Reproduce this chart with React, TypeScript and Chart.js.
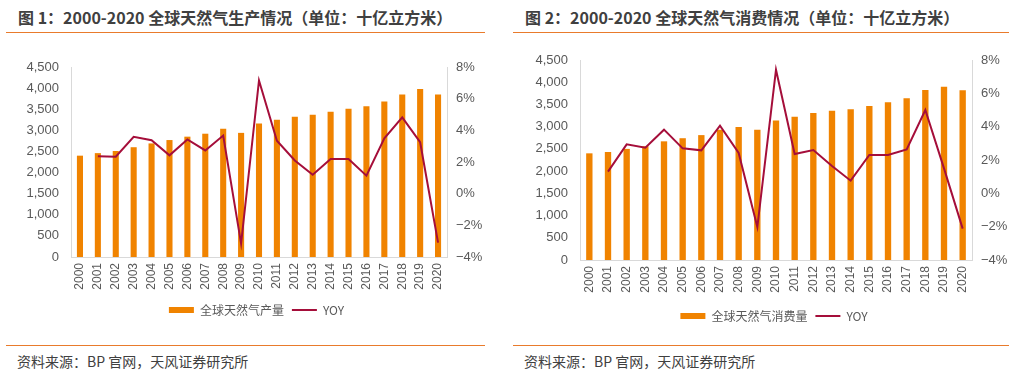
import React, { useEffect, useRef } from "react";
import { Chart, registerables } from "chart.js";

Chart.register(...registerables);

const years = [
  "2000", "2001", "2002", "2003", "2004", "2005", "2006", "2007", "2008", "2009", "2010",
  "2011", "2012", "2013", "2014", "2015", "2016", "2017", "2018", "2019", "2020",
];

const production = [
  2400, 2460, 2510, 2600, 2690, 2770, 2850, 2920, 3040, 2940, 3160,
  3250, 3320, 3370, 3440, 3510, 3570, 3680, 3850, 3980, 3850,
];
const productionYoy = [
  null, 2.37, 2.33, 3.59, 3.38, 2.42, 3.42, 2.73, 3.67, -3.15, 7.15,
  3.34, 2.1, 1.2, 2.19, 2.19, 1.14, 3.5, 4.82, 3.25, -3.09,
];

const consumption = [
  2400, 2430, 2500, 2560, 2670, 2740, 2810, 2930, 2990, 2930, 3140,
  3225, 3310, 3360, 3390, 3465, 3550, 3640, 3825, 3900, 3820,
];
const consumptionYoy = [
  null, 1.3, 2.94, 2.74, 3.82, 2.7, 2.58, 4.06, 2.42, -2.02, 7.42,
  2.36, 2.6, 1.64, 0.76, 2.3, 2.3, 2.64, 5.0, 1.5, -2.12,
];

const leftTicks = [0, 4500, 500];
const rightTicks = [-4, 8, 2];

const ORANGE = "#F08300";
const RED = "#A50E3A";
const AXIS = "#D9D9D9";
const TEXT = "#595959";
const LINE_ORANGE = "#E97B2C";
const FONT = '"Liberation Sans", Arial, "Noto Sans CJK SC", sans-serif';
const CJK = '"Noto Sans CJK SC", "Liberation Sans", sans-serif';

type PanelProps = {
  left: number;
  top: number;
  width: number;
  height: number;
  padLeft: number;
  padTop: number;
  yWidth: number;
  y1Width: number;
  xHeight: number;
  barLabel: string;
  bars: number[];
  yoy: (number | null)[];
};

function ComboChart(p: PanelProps) {
  const ref = useRef<HTMLCanvasElement | null>(null);
  useEffect(() => {
    if (!ref.current) return;
    const chart = new Chart(ref.current, {
      type: "bar",
      data: {
        labels: years,
        datasets: [
          {
            type: "line",
            label: "YOY",
            data: p.yoy,
            borderColor: RED,
            backgroundColor: RED,
            borderWidth: 2,
            pointRadius: 0,
            tension: 0,
            yAxisID: "y1",
            order: 1,
          } as any,
          {
            type: "bar",
            label: p.barLabel,
            data: p.bars,
            backgroundColor: ORANGE,
            barPercentage: 0.34,
            categoryPercentage: 1,
            yAxisID: "y",
            order: 2,
          } as any,
        ],
      },
      options: {
        animation: false,
        responsive: false,
        maintainAspectRatio: false,
        layout: { padding: { left: p.padLeft, top: p.padTop, right: 0, bottom: 0 } },
        plugins: {
          tooltip: { enabled: false },
          legend: {
            position: "bottom",
            labels: {
              usePointStyle: true,
              pointStyleWidth: 25,
              boxHeight: 6,
              padding: 8,
              color: TEXT,
              font: { size: 12, family: CJK },
              generateLabels: () => [
                {
                  text: p.barLabel,
                  fillStyle: ORANGE,
                  strokeStyle: ORANGE,
                  lineWidth: 0,
                  pointStyle: "rect",
                  hidden: false,
                  datasetIndex: 1,
                  fontColor: TEXT,
                } as any,
                {
                  text: "YOY",
                  fillStyle: RED,
                  strokeStyle: RED,
                  lineWidth: 2,
                  pointStyle: "line",
                  hidden: false,
                  datasetIndex: 0,
                  fontColor: TEXT,
                } as any,
              ],
            },
          },
        },
        scales: {
          x: {
            grid: { display: false, drawTicks: false },
            border: { color: AXIS, width: 1 },
            ticks: {
              minRotation: 90,
              maxRotation: 90,
              padding: 6,
              color: TEXT,
              font: { size: 12, family: FONT },
              autoSkip: false,
            },
            afterFit: (s: any) => {
              s.height = p.xHeight;
            },
          },
          y: {
            position: "left",
            min: leftTicks[0],
            max: leftTicks[1],
            grid: { display: false, drawTicks: false },
            border: { color: AXIS, width: 1 },
            ticks: {
              stepSize: leftTicks[2],
              padding: 12,
              color: TEXT,
              font: { size: 13, family: FONT },
              callback: (v: any) => Number(v).toLocaleString("en-US"),
            },
            afterFit: (s: any) => {
              s.width = p.yWidth;
            },
          },
          y1: {
            position: "right",
            min: rightTicks[0],
            max: rightTicks[1],
            grid: { display: false, drawTicks: false },
            border: { color: AXIS, width: 1 },
            ticks: {
              stepSize: rightTicks[2],
              padding: 9,
              color: TEXT,
              font: { size: 13, family: FONT },
              callback: (v: any) => (Number(v) < 0 ? "\u2212" : "") + Math.abs(Number(v)) + "%",
            },
            afterFit: (s: any) => {
              s.width = p.y1Width;
            },
          },
        },
      } as any,
    });
    return () => chart.destroy();
  }, []);
  return (
    <canvas
      ref={ref}
      width={p.width}
      height={p.height}
      style={{ position: "absolute", left: p.left, top: p.top, width: p.width, height: p.height }}
    />
  );
}

const titleStyle: React.CSSProperties = {
  position: "absolute",
  top: 7,
  fontFamily: CJK,
  fontWeight: 700,
  fontSize: 16,
  lineHeight: "20px",
  color: "#404040",
  whiteSpace: "nowrap",
  margin: 0,
};

const sourceStyle: React.CSSProperties = {
  position: "absolute",
  top: 351,
  fontFamily: CJK,
  fontSize: 14,
  lineHeight: "20px",
  color: "#404040",
  whiteSpace: "nowrap",
};

function Rule(props: { left: number; top: number; width: number }) {
  return (
    <div
      style={{
        position: "absolute",
        left: props.left,
        top: props.top,
        width: props.width,
        height: 1,
        background: LINE_ORANGE,
      }}
    />
  );
}

export default function App() {
  return (
    <div
      style={{
        position: "absolute",
        left: 0,
        top: 0,
        width: 1024,
        height: 375,
        background: "#fff",
        overflow: "hidden",
      }}
    >
      <div style={{ ...titleStyle, left: 18 }}>图 1：2000-2020 全球天然气生产情况（单位：十亿立方米）</div>
      <Rule left={6} top={32} width={479} />
      <ComboChart
        left={0}
        top={40}
        width={495}
        height={286}
        padLeft={18}
        padTop={27}
        yWidth={53}
        y1Width={48}
        xHeight={39}
        barLabel="全球天然气产量"
        bars={production}
        yoy={productionYoy}
      />
      <Rule left={6} top={345} width={479} />
      <div style={{ ...sourceStyle, left: 17 }}>资料来源：BP 官网，天风证券研究所</div>

      <div style={{ ...titleStyle, left: 525 }}>图 2：2000-2020 全球天然气消费情况（单位：十亿立方米）</div>
      <Rule left={513} top={32} width={496} />
      <ComboChart
        left={512}
        top={40}
        width={505}
        height={292}
        padLeft={19}
        padTop={20}
        yWidth={49}
        y1Width={45}
        xHeight={42}
        barLabel="全球天然气消费量"
        bars={consumption}
        yoy={consumptionYoy}
      />
      <Rule left={513} top={345} width={496} />
      <div style={{ ...sourceStyle, left: 524 }}>资料来源：BP 官网，天风证券研究所</div>
    </div>
  );
}
